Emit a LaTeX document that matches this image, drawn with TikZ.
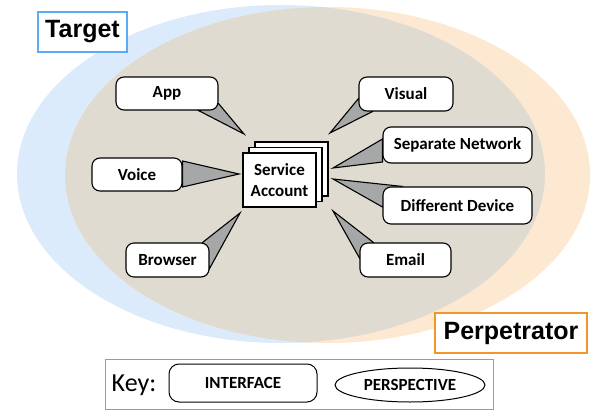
\documentclass[tikz,border=0pt]{standalone}
\usepackage{fontspec}
\setmainfont{Carlito}
\newfontfamily\arialfont{Liberation Sans}
\usetikzlibrary{shapes.geometric}
\definecolor{blueell}{HTML}{DCEBFB}
\definecolor{orangeell}{HTML}{FDE8D2}
\definecolor{tanell}{HTML}{E0DBD1}
\definecolor{tailgray}{HTML}{A5A8A6}
\definecolor{tgtblue}{HTML}{5AABF5}
\definecolor{perporange}{HTML}{F2962C}
\definecolor{keygray}{HTML}{9A9A9A}
\pgfdeclarelayer{ell}
\pgfdeclarelayer{tails}
\pgfsetlayers{ell,tails,main}
\begin{document}
\begin{tikzpicture}[x=1pt,y=-1pt,
  callout/.style={draw=black, line width=1.1pt, fill=white, rounded corners=8pt,
    font=\fontsize{17}{19}\selectfont\bfseries, inner sep=0pt},
  tail/.style={draw=black, line width=1.1pt, fill=tailgray, line join=miter},
  sabox/.style={draw=black, line width=1.1pt, fill=white, minimum width=73pt,
    minimum height=54pt, inner sep=0pt},
  label/.style={font=\arialfont\fontsize{25}{28}\selectfont\bfseries, line width=1.6pt,
    fill=white, inner sep=0pt}]
\useasboundingbox (0,0) rectangle (593,411);
% ellipses
\begin{pgfonlayer}{ell}
  \fill[blueell] (281,174) ellipse [x radius=264, y radius=169];
  \fill[orangeell] (327.5,175) ellipse [x radius=262.5, y radius=168];
  \begin{scope}
    \clip (281,174) ellipse [x radius=264, y radius=169];
    \fill[tanell] (327.5,175) ellipse [x radius=262.5, y radius=168];
  \end{scope}
\end{pgfonlayer}
% labels
\node[label, draw=tgtblue, minimum width=89pt, minimum height=40pt] (target) at (82.5,32) {Target};
\node[label, draw=perporange, minimum width=152pt, minimum height=40pt] (perp) at (511,333) {Perpetrator};
% service account stack
\node[sabox] (sa3) at (291.5,169) {};
\node[sabox] (sa2) at (285.5,174.5) {};
\node[sabox, align=center, font=\fontsize{17}{21}\selectfont\bfseries] (sa) at (279.5,180) {Service\\Account};
% callouts
\node[callout, minimum width=102pt, minimum height=33pt] (app) at (167,93.5) {App};
\node[callout, minimum width=90pt, minimum height=33pt] (voice) at (137,174.5) {Voice};
\node[callout, minimum width=83pt, minimum height=34pt] (browser) at (167.5,260) {Browser};
\node[callout, minimum width=94pt, minimum height=34pt] (visual) at (406,94) {Visual};
\node[callout, minimum width=149pt, minimum height=36pt] (sepnet) at (457.5,145) {Separate Network};
\node[callout, minimum width=149pt, minimum height=37pt] (diffdev) at (457.5,205.5) {Different Device};
\node[callout, minimum width=91pt, minimum height=34pt] (email) at (405.5,260) {Email};
% tail tips
\coordinate (tapp) at (244,134);
\coordinate (tvoice) at (239,174);
\coordinate (tbrowser) at (240,213);
\coordinate (tvisual) at (330,133);
\coordinate (tsepnet) at (333,168);
\coordinate (tdiffdev) at (333,179);
\coordinate (temail) at (333,211);
\begin{pgfonlayer}{tails}
  \draw[tail] ([xshift=-20pt]app.south east) -- (tapp) -- ([yshift=7pt]app.south east) -- cycle;
  \draw[tail] ([yshift=-12.5pt]voice.east) -- (tvoice) -- ([yshift=13.5pt]voice.east) -- cycle;
  \draw[tail] ([xshift=-7pt]browser.north east) -- (tbrowser) -- ([yshift=9pt]browser.south east) -- cycle;
  \draw[tail] ([yshift=13pt]visual.south west) -- (tvisual) -- ([xshift=14pt]visual.south west) -- cycle;
  \draw[tail] ([yshift=6pt]sepnet.west) -- (tsepnet) -- ([yshift=-17pt]sepnet.west) -- cycle;
  \draw[tail] ([xshift=20pt]diffdev.north west) -- (tdiffdev) -- ([yshift=-1.5pt]diffdev.west) -- cycle;
  \draw[tail] ([xshift=14pt]email.north west) -- (temail) -- ([yshift=2pt]email.west) -- cycle;
\end{pgfonlayer}
% key
\node[draw=keygray, line width=1pt, minimum width=388pt, minimum height=50pt, inner sep=0pt] (key) at (299,384) {};
\node[font=\fontsize{26}{30}\selectfont, inner sep=0pt] (keylbl) at (134,385) {Key:};
\node[draw=black, line width=1pt, rounded corners=10pt, minimum width=148pt, minimum height=38pt,
  inner sep=0pt, font=\fontsize{17}{19}\selectfont\bfseries] (kint) at (243,383) {INTERFACE};
\node[draw=black, line width=1pt, ellipse, minimum width=150pt, minimum height=34pt,
  inner sep=0pt, font=\fontsize{17}{19}\selectfont\bfseries] (kpers) at (410,385) {PERSPECTIVE};
\end{tikzpicture}
\end{document}
